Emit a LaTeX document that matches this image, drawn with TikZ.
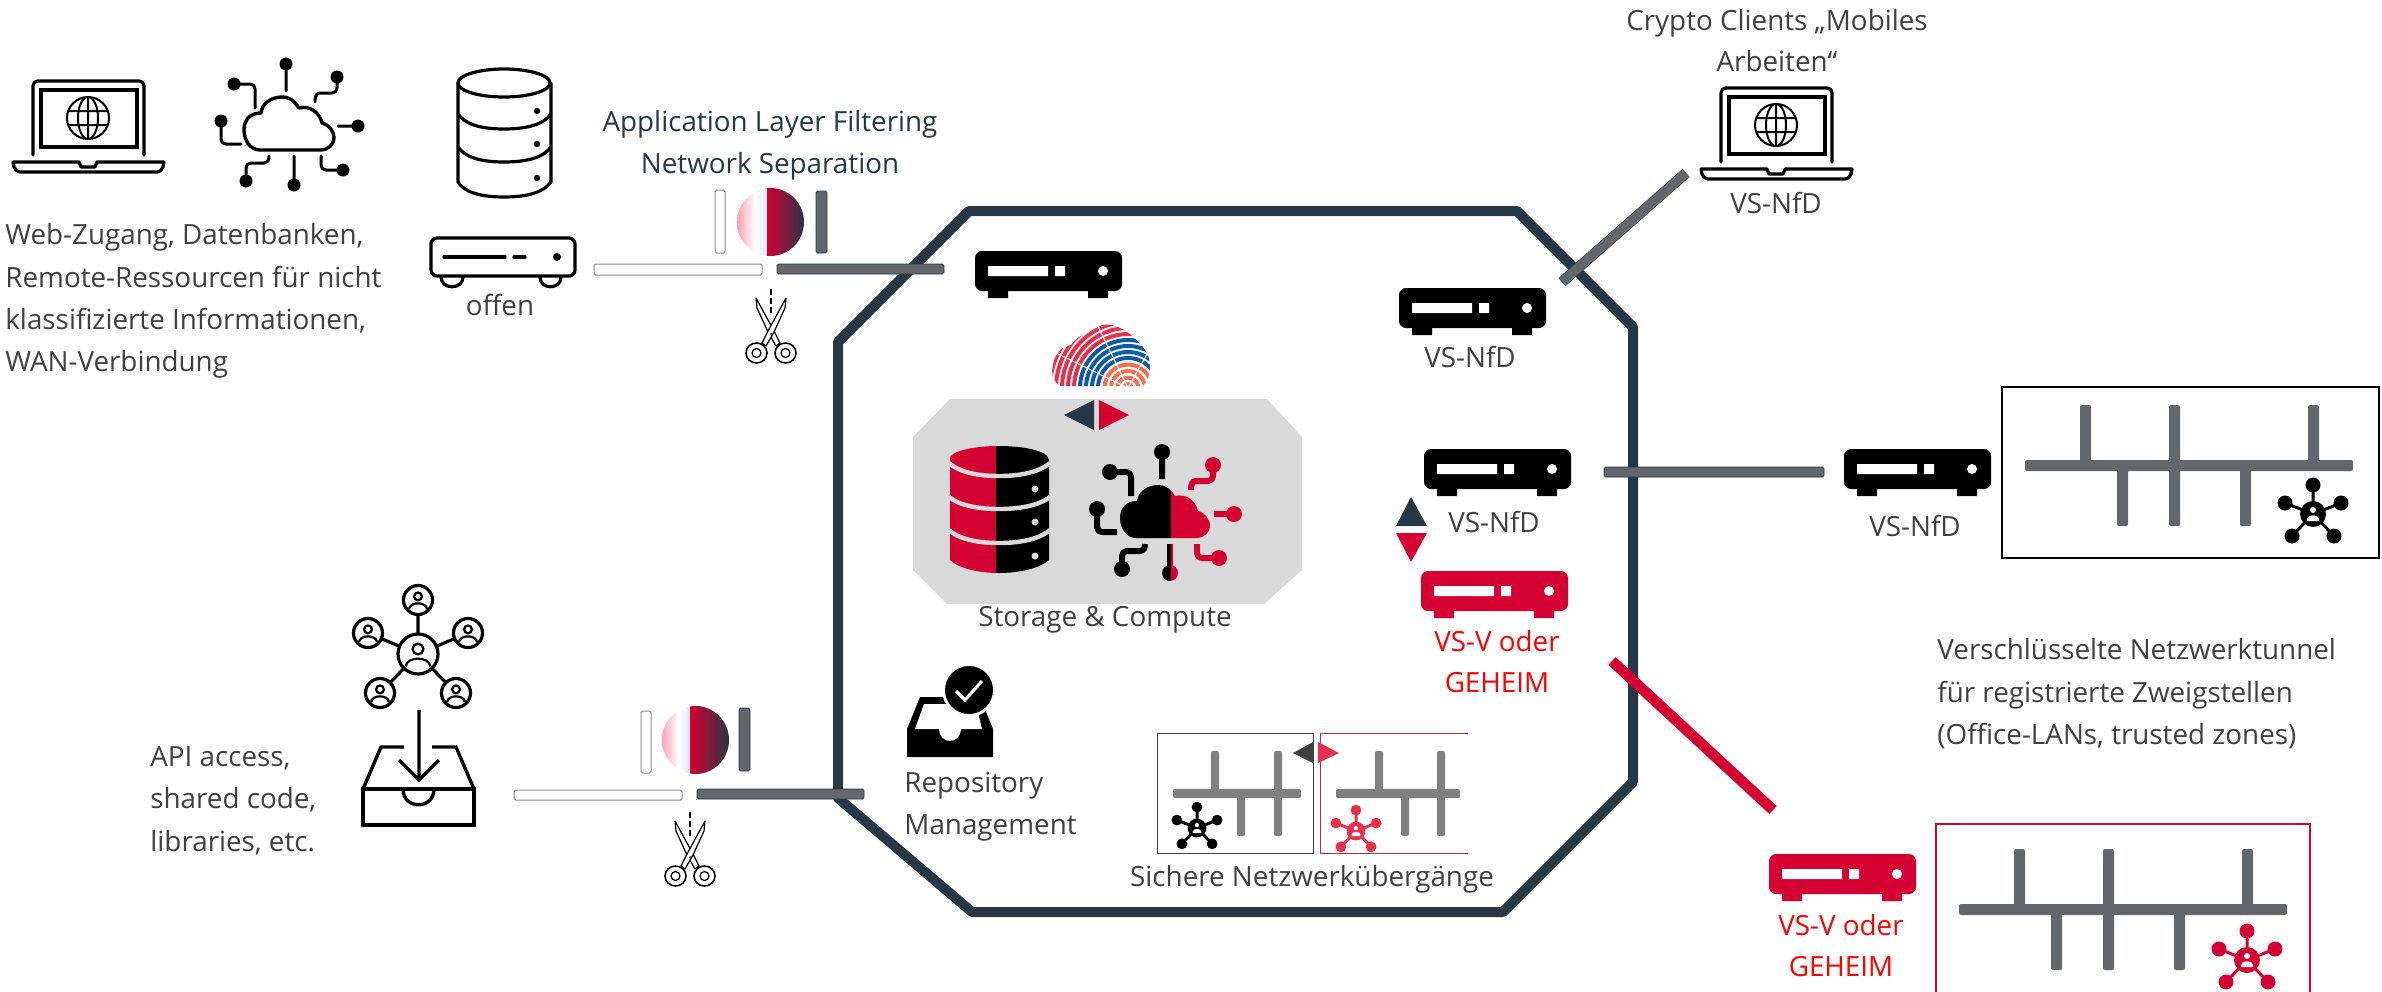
\documentclass[tikz,border=0pt]{standalone}
\usepackage{fontspec}
\setmainfont{Open Sans}
\definecolor{navy}{HTML}{263746}
\definecolor{crim}{HTML}{D30031}
\definecolor{barg}{HTML}{63666A}
\definecolor{txtg}{HTML}{404040}
\definecolor{lred}{HTML}{E9304A}
\definecolor{greyo}{HTML}{D9D9D9}
\definecolor{pink}{HTML}{FF9DB2}
\definecolor{pale}{HTML}{DCE8F5}
\definecolor{fblue}{HTML}{0B5CA8}
\definecolor{forange}{HTML}{F4704F}
\tikzset{
 x=0.5pt,y=-0.5pt,
 txt/.style={font=\fontsize{13.9}{16}\selectfont,text=txtg,inner sep=0pt,text height=.72em,text depth=.12em,yshift=-1.6pt},
 txtL/.style={txt,anchor=west},
 txtR/.style={txt,text=red},
 txtN/.style={txt,text=navy},
 ico/.style={line width=1.6pt,line cap=round,line join=round},
 whitebar/.style={draw=black!45,fill=white,line width=.5pt,rounded corners=.8pt},
 greybar/.style={draw=navy,fill=barg,line width=.3pt,rounded corners=.8pt},
 longbar/.style={draw=navy,double=barg,double distance=4.8pt,line width=.25pt},
}
% filled router
\newcommand{\rtrF}[3]{\begin{scope}[shift={(#1,#2)}]
 \fill[#3,rounded corners=3.5pt] (0,0) rectangle (147,40);
 \fill[#3] (13,38) rectangle (33,47) (113,38) rectangle (133,47);
 \fill[white] (13,15) rectangle (73,25) (80,15) rectangle (90,25) (128,20) circle [radius=5];
\end{scope}}
% cloud with circuit
\newcommand{\cloudP}{(260,150) .. controls (250,150) and (244,140) .. (244,130) .. controls (244,120) and (250,113) .. (261,113) .. controls (262,103) and (272,97) .. (282,97) .. controls (291,97) and (296,103) .. (299,108) .. controls (310,105) and (320,113) .. (322,123) .. controls (330,125) and (334,133) .. (334,137) .. controls (334,145) and (328,150) .. (320,150) -- cycle}
\newcommand{\wiresL}{(286,64) -- (286,91) (234,84) -- (250,84) .. controls (253,84) and (255,86) .. (255,89) -- (255,108) (221,121) -- (221,139) .. controls (221,142) and (223,144) .. (226,144) -- (241,144) (246,181) -- (246,168) .. controls (246,165) and (248,163) .. (251,163) -- (264,163) .. controls (267,163) and (269,161) .. (269,156)}
\newcommand{\wiresR}{(337,77) -- (337,88) .. controls (337,91) and (335,93) .. (332,93) -- (320,93) .. controls (317,93) and (315,95) .. (315,102) (358,126) -- (338,126) (343,170) -- (326,170) .. controls (323,170) and (321,168) .. (321,165) -- (321,156)}
% laptop
\newcommand{\laptop}[2]{\begin{scope}[shift={(#1,#2)}]
 \draw[ico] (33,155) -- (33,86) .. controls (33,83) and (35,81) .. (38,81) -- (139,81) .. controls (142,81) and (144,83) .. (144,86) -- (144,155);
 \draw[ico,line join=miter] (41,90) rectangle (137,147);
 \draw[line width=1pt] (88,118) ellipse [x radius=21,y radius=21] (88,118) ellipse [x radius=10,y radius=21] (88,97) -- (88,139) (68,111) -- (108,111) (68,125) -- (108,125);
 \draw[ico] (13,162) -- (79,162) -- (81,167) -- (95,167) -- (97,162) -- (164,162) -- (163,167) .. controls (162,170) and (160,172) .. (157,172) -- (20,172) .. controls (17,172) and (15,170) .. (14,167) -- cycle;
\end{scope}}
% firewall disc
\newcommand{\disc}[3]{\begin{scope}
 \clip (#1,#2) ellipse [x radius=33.5,y radius=34];
 \shade[left color=pink,right color=white] ({#1-34},{#2-35}) rectangle ({#3-12},{#2+35});
 \shade[left color=white,right color=pale] ({#3-12},{#2-35}) rectangle (#3,{#2+35});
 \shade[left color=crim,right color=navy] (#3,{#2-35}) rectangle ({#1+34},{#2+35});
\end{scope}}
% scissors: pivot at #1,#2
\newcommand{\sciss}[2]{\begin{scope}[shift={(#1,#2)}]
 \draw[line width=.6pt,fill=white,line join=round] (-15,-36) -- (-14,-26) -- (-3,-2) -- (5,12) -- (9,9) -- (3,-3) -- cycle;
 \draw[line width=.6pt,fill=white,line join=round] (15,-36) -- (14,-26) -- (3,-2) -- (-5,12) -- (-9,9) -- (-3,-3) -- cycle;
 \draw[line width=.8pt] (-14.5,19) ellipse [x radius=10.5,y radius=10] (14.5,19) ellipse [x radius=10.5,y radius=10];
 \draw[line width=.6pt] (-14.5,19) circle [radius=4.5] (14.5,19) circle [radius=4.5];
 \fill (0,0) circle [radius=1];
 \draw[line width=.6pt,dash pattern=on 3pt off 1.5pt] (0,-45) -- (0,-19);
\end{scope}}
% filled star; #1,#2 centre, #3 scale, #4 colour
\newcommand{\starF}[4]{\begin{scope}[shift={(#1,#2)},scale=#3]
 \draw[#4,line width=1.5pt] (0,0) -- (0,-29) (0,0) -- (-28,-11) (0,0) -- (28,-11) (0,0) -- (-21,22) (0,0) -- (21,22);
 \fill[#4] (0,-29) circle [radius=7.5] (-28,-11) circle [radius=7.5] (28,-11) circle [radius=7.5] (-21,22) circle [radius=7.5] (21,22) circle [radius=7.5] (0,0) circle [radius=13];
 \fill[white] (0,-4) circle [radius=3];
 \fill[white] (-6,5) .. controls (-6,0) and (6,0) .. (6,5) -- (6,7) -- (-6,7) -- cycle;
\end{scope}}
% outlined person disc
\newcommand{\persO}[4]{\begin{scope}[shift={(#1,#2)}]
 \draw[line width=1.6pt,fill=white] (0,0) circle [radius=#3];
 \draw[line width=1.1pt] (0,{-0.25*#3}) circle [radius={0.27*#3}];
 \draw[line width=1.1pt] ({-0.62*#3},{0.62*#3}) .. controls ({-0.55*#3},{0.1*#3}) and ({0.55*#3},{0.1*#3}) .. ({0.62*#3},{0.62*#3});
\end{scope}}
% network tree in framed box
\newcommand{\netlarge}[2]{\begin{scope}[shift={(#1,#2)}]
 \fill[barg,rounded corners=1pt] (23,80) rectangle (351,91)
  (78,25) rectangle (89,85) (167,25) rectangle (178,146) (306,25) rectangle (317,85)
  (115,85) rectangle (126,146) (238,85) rectangle (249,146);
\end{scope}}
\newcommand{\netsmall}[4]{%
 \fill[gray,rounded corners=1pt] (#1,789) rectangle ({#1+#2},798);
 \fill[gray,rounded corners=1pt] ({#3-4},751) rectangle ({#3+4},795) ({#4-4},751) rectangle ({#4+4},836);}
\begin{document}
\begin{tikzpicture}
\useasboundingbox (0,0) rectangle (2382,991);
% grey inner field
\fill[greyo] (950,399) -- (1267,399) -- (1302,437) -- (1302,570) -- (1264,604) -- (947,604) -- (913,570) -- (913,437) -- cycle;
% octagon
\draw[navy,line width=5pt,line join=bevel] (969,211) -- (1517,211) -- (1633,327) -- (1633,782) -- (1503,912) -- (972,912) -- (838,798) -- (838,342) -- cycle;
%% top-left icons
\laptop{0}{0}
\draw[ico,line width=1.7pt] \cloudP;
\draw[ico,line width=1.5pt] \wiresL \wiresR (294,185) -- (294,156);
\fill (286,64) circle [radius=6.5] (234,84) circle [radius=6.5] (337,77) circle [radius=6.5] (221,121) circle [radius=6.5] (358,126) circle [radius=6.5] (246,181) circle [radius=6.5] (294,185) circle [radius=6.5] (343,170) circle [radius=6.5];
% outlined database
\begin{scope}[ico]
 \draw (504,83) ellipse [x radius=46,y radius=14];
 \draw (458,83) -- (458,182) .. controls (464,192) and (480,197) .. (504,197) .. controls (528,197) and (544,192) .. (551,182) -- (551,83);
 \draw (458,114) .. controls (465,124) and (480,129) .. (504,129) .. controls (528,129) and (544,124) .. (551,114);
 \draw (458,147) .. controls (465,157) and (480,162) .. (504,162) .. controls (528,162) and (544,157) .. (551,147);
\end{scope}
\fill (537,111) circle [radius=3.2] (537,144) circle [radius=3.2] (537,178) circle [radius=3.2];
% outlined router
\begin{scope}[ico]
 \draw[rounded corners=3pt] (431,238) rectangle (575,276);
 \draw (441,277) .. controls (441,290) and (463,290) .. (463,277) (540,277) .. controls (540,290) and (561,290) .. (561,277);
 \draw (444,257) -- (505,257) (514,257) -- (525,257);
\end{scope}
\fill (557,257) circle [radius=4];
\node[txt] (offen) at (500,306) {offen};
\node[txtL] (web1) at (5,235) {Web-Zugang, Datenbanken,};
\node[txtL] (web2) at (5,278) {Remote-Ressourcen für nicht};
\node[txtL] (web3) at (5,320) {klassifizierte Informationen,};
\node[txtL] (web4) at (5,362) {WAN-Verbindung};
\node[txtN] (alf1) at (770,122) {Application Layer Filtering};
\node[txtN] (alf2) at (770,164) {Network Separation};
%% firewall 1
\draw[whitebar] (594,264) rectangle (762,275);
\draw[greybar] (777,264) rectangle (944,274);
\draw[whitebar] (715,190) rectangle (725,253);
\disc{770.5}{222}{767}
\draw[greybar] (816,191) rectangle (827,253);
\sciss{771}{334}
%% firewall 2
\draw[whitebar] (514,790) rectangle (682,800);
\draw[greybar] (697,789) rectangle (864,799);
\draw[whitebar] (641,711) rectangle (651,773);
\disc{695.5}{740}{690}
\draw[greybar] (739,708) rectangle (750,771);
\sciss{690}{857}
%% routers
\rtrF{975}{251}{black}
\rtrF{1399}{288}{black}
\rtrF{1424}{449}{black}
\rtrF{1844}{449}{black}
\rtrF{1421}{571}{crim}
\rtrF{1769}{854}{crim}
\node[txt] (nfd1) at (1470,358) {VS-NfD};
\node[txt] (nfd2) at (1494,523) {VS-NfD};
\node[txt] (nfd3) at (1915,527) {VS-NfD};
\node[txtR] (vsv1) at (1497,642) {VS-V oder};
\node[txtR] (geh1) at (1497,683) {GEHEIM};
\node[txtR] (vsv2) at (1841,926) {VS-V oder};
\node[txtR] (geh2) at (1841,967) {GEHEIM};
%% crypto clients
\laptop{1688}{7}
\node[txt] (cc1) at (1777,21) {Crypto Clients „Mobiles};
\node[txt] (cc2) at (1777,62) {Arbeiten“};
\node[txt] (nfd4) at (1776,204) {VS-NfD};
%% long bars
\coordinate (gA) at (1562,282); \coordinate (gB) at (1686,173);
\draw[longbar] (gA) -- (gB);
\draw[greybar] (1604,467) rectangle (1824,477);
\coordinate (rA) at (1612,661); \coordinate (rB) at (1773,810);
\draw[crim,line width=5.4pt] (rA) -- (rB);
%% triangles
\fill[navy] (1064,415) -- (1094,400) -- (1094,430) -- cycle;
\fill[crim] (1129,415) -- (1099,400) -- (1099,430) -- cycle;
\fill[navy] (1411,497) -- (1396,526) -- (1427,526) -- cycle;
\fill[crim] (1411,562) -- (1396,533) -- (1427,533) -- cycle;
%% fingerprint cloud
\begin{scope}
 \clip (1060,386) .. controls (1052,380) and (1051,372) .. (1053,365) .. controls (1055,352) and (1063,346) .. (1071,345) .. controls (1076,338) and (1082,334) .. (1088,333) .. controls (1094,325) and (1108,322) .. (1118,327) .. controls (1130,332) and (1140,342) .. (1147,353) .. controls (1151,362) and (1152,376) .. (1143,386) -- cycle;
 \foreach \r in {4,10.5,17,23.5}{\draw[forange,line width=2pt] (1128,388) circle [radius=\r];}
 \foreach \r in {30,36,42,48}{\draw[fblue,line width=2pt] (1128,388) circle [radius=\r];}
 \foreach \r in {54,60,66,72,78,84,90}{\draw[lred,line width=2pt] (1128,388) circle [radius=\r];}
 \draw[white,line width=.5pt] (1128,388) -- (1095,320) (1128,388) -- (1050,350) (1128,388) -- (1155,340);
\end{scope}
%% filled database
\begin{scope}
 \clip (950,440) rectangle (996,580);
 \fill[crim] (950,459) -- (1049,459) -- (1049,560) .. controls (1040,568) and (1020,573) .. (999,573) .. controls (978,573) and (958,568) .. (950,560) -- cycle (999,459) ellipse [x radius=49.5,y radius=13];
\end{scope}
\begin{scope}
 \clip (996,440) rectangle (1052,580);
 \fill[black] (950,459) -- (1049,459) -- (1049,560) .. controls (1040,568) and (1020,573) .. (999,573) .. controls (978,573) and (958,568) .. (950,560) -- cycle (999,459) ellipse [x radius=49.5,y radius=13];
\end{scope}
\draw[greyo,line width=2.2pt] (949,463) .. controls (960,473) and (980,476) .. (999,476) .. controls (1018,476) and (1038,473) .. (1050,463);
\draw[greyo,line width=2.2pt] (949,497) .. controls (960,506) and (980,509) .. (999,509) .. controls (1018,509) and (1038,506) .. (1050,497);
\draw[greyo,line width=2.2pt] (949,530) .. controls (960,540) and (980,543) .. (999,543) .. controls (1018,543) and (1038,540) .. (1050,530);
\fill[greyo] (1035,489) circle [radius=3.5] (1035,522) circle [radius=3.5] (1035,556) circle [radius=3.5];
%% filled cloud
\begin{scope}[shift={(876,388)}]
 \begin{scope}
  \clip (200,50) rectangle (295,200);
  \fill \cloudP;
  \draw[line width=3pt,line join=round] (294,185) -- (294,156) \wiresL;
  \fill (286,64) circle [radius=8] (234,84) circle [radius=8] (221,121) circle [radius=8] (246,181) circle [radius=8] (294,185) circle [radius=8];
 \end{scope}
 \begin{scope}
  \clip (295,50) rectangle (380,200);
  \fill[crim] \cloudP;
  \draw[crim,line width=3pt,line join=round] (294,185) -- (294,156) \wiresR;
  \fill[crim] (337,77) circle [radius=8] (358,126) circle [radius=8] (343,170) circle [radius=8] (294,185) circle [radius=8];
 \end{scope}
\end{scope}
\node[txt] (stc) at (1105,617) {Storage \& Compute};
%% right black box
\draw[line width=.6pt,draw=black] (2002,387) rectangle (2379,558);
\netlarge{2002}{380}
\starF{2313}{514}{1}{black}
\node[txtL] (vt1) at (1937,650) {Verschlüsselte Netzwerktunnel};
\node[txtL] (vt2) at (1937,693) {für registrierte Zweigstellen};
\node[txtL] (vt3) at (1937,735) {(Office-LANs, trusted zones)};
%% right red box
\draw[crim,line width=.8pt] (1936,995) -- (1936,824) -- (2310,824) -- (2310,995);
\netlarge{1936}{824}
\starF{2247}{960}{1}{crim}
%% API side
\draw[line width=1.6pt] (418,654) -- (418,600) (418,654) -- (368,633) (418,654) -- (468,633) (418,654) -- (380,693) (418,654) -- (456,693);
\persO{418}{654}{20}{}
\persO{418}{600}{14.5}{}
\persO{368}{633}{14.5}{}
\persO{468}{633}{14.5}{}
\persO{380}{693}{14.5}{}
\persO{456}{693}{14.5}{}
\begin{scope}[line width=1.7pt,line join=miter]
 \draw (419,710) -- (419,780) (399,760) -- (419,780) -- (439,760);
 \draw (404,747) -- (381,747) -- (363,789) (432,747) -- (456,747) -- (474,789);
 \draw (363,789) rectangle (474,825);
 \draw (403,789) .. controls (403,810) and (434,810) .. (434,789);
\end{scope}
\node[txtL] (api1) at (150,757) {API access,};
\node[txtL] (api2) at (150,799) {shared code,};
\node[txtL] (api3) at (150,842) {libraries, etc.};
%% repository
\fill (907,729) -- (920,697) -- (980,697) -- (993,729) -- (993,757) -- (907,757) -- cycle;
\fill[white] (915,729) -- (924,704) -- (976,704) -- (982,729) -- cycle;
\fill[white] (950,729) ellipse [x radius=11,y radius=12];
\fill[white] (969,690) circle [radius=27];
\fill (969,690) circle [radius=24];
\draw[white,line width=1.6pt] (956,691) -- (965,700) -- (982,681);
\node[txtL] (rep1) at (904,783) {Repository};
\node[txtL] (rep2) at (904,825) {Management};
%% secure transitions
\draw[draw=txtg,line width=.5pt] (1157,733) rectangle (1313,853);
\draw[draw=lred!85!black,line width=.5pt] (1468,733) -- (1320,733) -- (1320,853) -- (1468,853);
\netsmall{1173}{128}{1215}{1278}
\fill[gray,rounded corners=1pt] (1237,794) rectangle (1245,836);
\netsmall{1336}{124}{1379}{1441}
\fill[gray,rounded corners=1pt] (1401,794) rectangle (1409,836);
\fill[txtg] (1293,753) -- (1313,742) -- (1313,763) -- cycle;
\fill[lred] (1339,753) -- (1318,742) -- (1318,763) -- cycle;
\starF{1197}{828}{0.72}{black}
\starF{1356}{831}{0.72}{lred}
\node[txt] (sng) at (1312,877) {Sichere Netzwerkübergänge};
\end{tikzpicture}
\end{document}
